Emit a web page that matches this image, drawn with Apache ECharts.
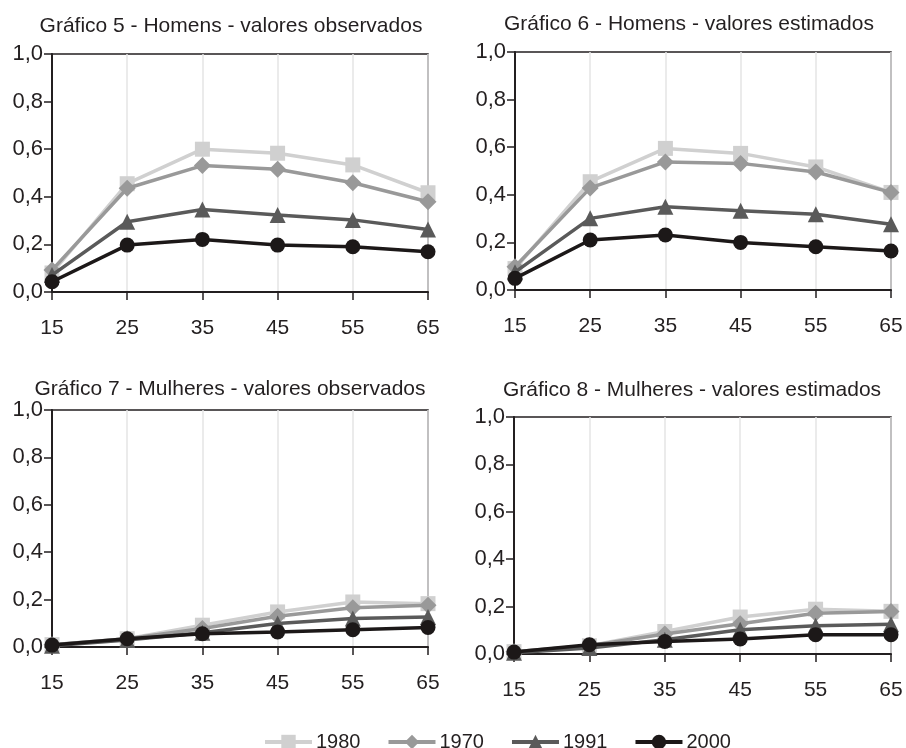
<!DOCTYPE html>
<html>
<head>
<meta charset="utf-8">
<script src="https://cdn.jsdelivr.net/npm/echarts@6/dist/echarts.min.js"></script>
<style>
html,body{margin:0;padding:0;background:#fff;}
#chart{width:906px;height:748px;}
</style>
</head>
<body>
<div id="chart"></div>
<script>
// Categories (age groups)
const ages = ['15', '25', '35', '45', '55', '65'];
const yTicks = [0, 0.2, 0.4, 0.6, 0.8, 1.0];
const seriesNames = ['1980', '1970', '1991', '2000'];

const chartTitles = [
  'Gráfico 5 - Homens - valores observados',
  'Gráfico 6 - Homens - valores estimados',
  'Gráfico 7 - Mulheres - valores observados',
  'Gráfico 8 - Mulheres - valores estimados'
];

// Gráfico 5 - Homens observados
const g5_1980 = [0.08, 0.455, 0.60, 0.583, 0.534, 0.417];
const g5_1970 = [0.092, 0.436, 0.531, 0.516, 0.459, 0.379];
const g5_1991 = [0.071, 0.295, 0.347, 0.324, 0.303, 0.263];
const g5_2000 = [0.043, 0.197, 0.221, 0.197, 0.19, 0.169];

// Gráfico 6 - Homens estimados
const g6_1980 = [0.09, 0.455, 0.595, 0.574, 0.517, 0.41];
const g6_1970 = [0.098, 0.429, 0.538, 0.532, 0.496, 0.41];
const g6_1991 = [0.075, 0.301, 0.35, 0.333, 0.318, 0.276];
const g6_2000 = [0.049, 0.21, 0.231, 0.2, 0.182, 0.164];

// Gráfico 7 - Mulheres observados
const g7_1980 = [0.01, 0.035, 0.092, 0.148, 0.19, 0.183];
const g7_1970 = [0.01, 0.035, 0.078, 0.13, 0.166, 0.176];
const g7_1991 = [0.005, 0.03, 0.06, 0.099, 0.12, 0.127];
const g7_2000 = [0.008, 0.035, 0.056, 0.063, 0.073, 0.082];

// Gráfico 8 - Mulheres estimados
const g8_1980 = [0.01, 0.035, 0.095, 0.156, 0.189, 0.18];
const g8_1970 = [0.01, 0.035, 0.084, 0.128, 0.172, 0.179];
const g8_1991 = [0.005, 0.025, 0.06, 0.102, 0.119, 0.126];
const g8_2000 = [0.008, 0.039, 0.053, 0.063, 0.081, 0.081];

const panelData = [
  [g5_1980, g5_1970, g5_1991, g5_2000],
  [g6_1980, g6_1970, g6_1991, g6_2000],
  [g7_1980, g7_1970, g7_1991, g7_2000],
  [g8_1980, g8_1970, g8_1991, g8_2000]
];

const styles = [
  {color: '#d0d0d0', symbol: 'rect', size: 15},
  {color: '#999999', symbol: 'diamond', size: 17},
  {color: '#5a5a5a', symbol: 'triangle', size: 16},
  {color: '#1c1818', symbol: 'circle', size: 15}
];

const grids = [
  {left: 52, top: 54, width: 376, height: 238},
  {left: 515, top: 52, width: 376, height: 238},
  {left: 52, top: 410, width: 376, height: 237},
  {left: 514, top: 417, width: 377, height: 237}
];
const titlePos = [
  {x: 226, y: 11},
  {x: 684, y: 9},
  {x: 225, y: 374},
  {x: 687, y: 375}
];

const FONT = 'Liberation Sans, Arial, Helvetica, sans-serif';
const TXT = '#231f20';

const option = {
  backgroundColor: '#ffffff',
  animation: false,
  title: chartTitles.map((t, i) => ({
    text: t,
    left: titlePos[i].x,
    top: titlePos[i].y,
    textAlign: 'center',
    textStyle: {fontFamily: FONT, fontSize: 21, fontWeight: 'normal', color: TXT}
  })),
  legend: {
    data: seriesNames,
    left: 258,
    top: 727,
    itemWidth: 47,
    itemHeight: 18,
    itemGap: 26,
    lineStyle: {width: 4},
    textStyle: {fontFamily: FONT, fontSize: 20, color: TXT, padding: [0, 0, 0, -1]}
  },
  grid: grids.map(g => Object.assign({
    show: true,
    borderColor: '#231f20',
    borderWidth: 1.5,
    backgroundColor: 'transparent'
  }, g)),
  xAxis: grids.map((g, i) => ({
    type: 'category',
    gridIndex: i,
    data: ages,
    boundaryGap: false,
    axisLine: {show: true, lineStyle: {color: '#231f20', width: 2}},
    axisTick: {show: true, inside: false, length: 8, alignWithLabel: true, lineStyle: {color: '#231f20', width: 1.5}},
    axisLabel: {fontFamily: FONT, fontSize: 21, color: TXT, margin: 26},
    splitLine: {show: true, lineStyle: {color: '#e4e4e4', width: 1.5}}
  })),
  yAxis: grids.map((g, i) => ({
    type: 'value',
    gridIndex: i,
    min: yTicks[0],
    max: yTicks[yTicks.length - 1],
    interval: 0.2,
    axisLine: {show: true, lineStyle: {color: '#231f20', width: 2}},
    axisTick: {show: true, inside: false, length: 8, lineStyle: {color: '#231f20', width: 1.5}},
    axisLabel: {
      fontFamily: FONT, fontSize: 22, color: TXT, margin: 9,
      formatter: v => v.toFixed(1).replace('.', ',')
    },
    splitLine: {show: false}
  })),
  series: []
};

panelData.forEach((panel, p) => {
  panel.forEach((vals, s) => {
    const st = styles[s];
    option.series.push({
      type: 'line',
      name: seriesNames[s],
      xAxisIndex: p,
      yAxisIndex: p,
      data: vals,
      clip: false,
      symbol: st.symbol,
      symbolSize: st.size,
      showAllSymbol: true,
      lineStyle: {color: st.color, width: 3.5},
      itemStyle: {color: st.color, borderWidth: 0},
      emphasis: {disabled: true},
      z: 3 + s
    });
  });
});

const chart = echarts.init(document.getElementById('chart'), null, {renderer: 'canvas'});
chart.setOption(option);
</script>
</body>
</html>
